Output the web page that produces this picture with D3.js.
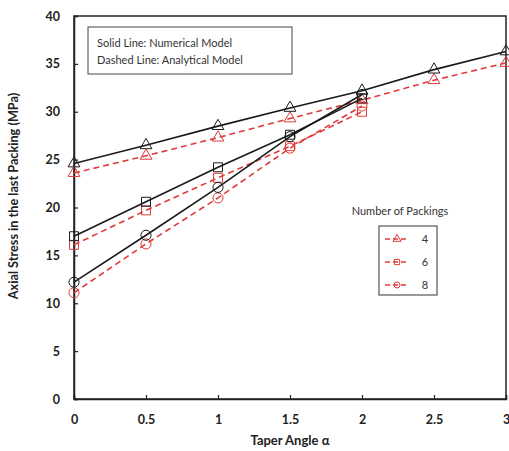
<!DOCTYPE html>
<html lang="en">
<head>
<meta charset="UTF-8">
<title>taper angle</title>
<style>
  body { margin: 0; background: #fff; }
  text { font-family: Lato, "Open Sans", sans-serif; }
  .tick text { font-size: 12.5px; font-weight: bold; fill: #222; }
  .num { fill: none; stroke: #1a1a1a; stroke-width: 1.6px; }
  .ana { fill: none; stroke: #e03a3a; stroke-width: 1.6px; stroke-dasharray: 6,4; }
</style>
</head>
<body>
<div id="chart"></div>
<script src="https://d3js.org/d3.v7.min.js"></script>
<script>
// taper angle on x
var angles = [0, 0.5, 1, 1.5, 2, 2.5, 3];
var packings = ["4", "6", "8"];

// numerical model (solid), analytical model (dashed)
var num4 = [24.6, 26.5, 28.5, 30.4, 32.2, 34.4, 36.3];
var ana4 = [23.6, 25.4, 27.3, 29.3, 31.2, 33.3, 35.1];
var num6 = [17.0, 20.6, 24.2, 27.6, 31.4];
var ana6 = [16.1, 19.7, 23.1, 26.4, 30.0];
var num8 = [12.2, 17.1, 22.1, 27.4, 31.8];
var ana8 = [11.1, 16.2, 21.0, 26.2, 30.6];

var xTicks = [0, 0.5, 1, 1.5, 2, 2.5, 3];
var yTicks = [0, 5, 10, 15, 20, 25, 30, 35, 40];

var margin = {top: 16, right: 3, bottom: 52, left: 74};
var width = 509 - margin.left - margin.right;
var height = 451 - margin.top - margin.bottom;

var svg = d3.select("#chart").append("svg")
    .attr("width", 509).attr("height", 451)
    .append("g")
    .attr("transform", "translate(" + margin.left + "," + margin.top + ")");

var x = d3.scaleLinear().domain([0, 3]).range([0, width]);
var y = d3.scaleLinear().domain([0, 40]).range([height, 0]);

// frame
svg.append("rect").attr("width", width).attr("height", height)
    .attr("fill", "none").attr("stroke", "#222").attr("stroke-width", 1.5);

var xAxis = svg.append("g").attr("transform", "translate(0," + height + ")")
    .call(d3.axisBottom(x).tickValues(xTicks).tickSize(-4).tickPadding(16).tickFormat(d3.format("")));
var yAxis = svg.append("g")
    .call(d3.axisLeft(y).tickValues(yTicks).tickSize(-4).tickPadding(14));
[xAxis, yAxis].forEach(function (a) {
  a.select(".domain").attr("stroke", "#222").attr("stroke-width", 1.5);
  a.selectAll(".tick line").attr("stroke", "#222").attr("stroke-width", 1.2);
});

svg.append("text").attr("x", width / 2).attr("y", height + 46)
    .attr("text-anchor", "middle").attr("font-size", 13).attr("font-weight", "bold")
    .attr("fill", "#222").text("Taper Angle α");
svg.append("text").attr("transform", "translate(-56,180) rotate(-90)")
    .attr("text-anchor", "middle").attr("font-size", 12.7).attr("font-weight", "bold")
    .attr("fill", "#222").text("Axial Stress in the last Packing (MPa)");

var series = [
  {num: num4, ana: ana4, sym: d3.symbolTriangle},
  {num: num6, ana: ana6, sym: d3.symbolSquare},
  {num: num8, ana: ana8, sym: d3.symbolCircle}
];

var line = d3.line().x(function (d) { return x(d[0]); }).y(function (d) { return y(d[1]); });

function pairs(vals) {
  return vals.map(function (v, i) { return [angles[i], v]; });
}

series.forEach(function (s) {
  [["ana", "#e03a3a"], ["num", "#1a1a1a"]].forEach(function (k) {
    var pts = pairs(s[k[0]]);
    svg.append("path").attr("class", k[0]).attr("d", line(pts));
    svg.selectAll(null).data(pts).enter().append("path")
        .attr("d", d3.symbol().type(s.sym).size(s.sym === d3.symbolTriangle ? 60 : 80))
        .attr("transform", function (d) { return "translate(" + x(d[0]) + "," + y(d[1]) + ")"; })
        .attr("fill", "none").attr("stroke", k[1]).attr("stroke-width", 1);
  });
});

// text legend top left
var lg = svg.append("g").attr("transform", "translate(14,11)");
lg.append("rect").attr("width", 204).attr("height", 47)
    .attr("fill", "#fff").attr("stroke", "#444").attr("stroke-width", 1);
lg.append("text").attr("x", 9).attr("y", 20).attr("font-size", 11).attr("fill", "#333")
    .text("Solid Line: Numerical Model");
lg.append("text").attr("x", 9).attr("y", 37).attr("font-size", 11).attr("fill", "#333")
    .text("Dashed Line: Analytical Model");

// packing legend
svg.append("text").attr("x", 326).attr("y", 199).attr("text-anchor", "middle")
    .attr("font-size", 11).attr("fill", "#333").text("Number of Packings");
var pl = svg.append("g").attr("transform", "translate(305,210)");
pl.append("rect").attr("width", 58).attr("height", 69)
    .attr("fill", "#fff").attr("stroke", "#555").attr("stroke-width", 1.2);
packings.forEach(function (p, i) {
  var ry = 13 + i * 23;
  pl.append("line").attr("x1", 6).attr("x2", 30).attr("y1", ry).attr("y2", ry)
      .attr("stroke", "#e03a3a").attr("stroke-width", 1.5).attr("stroke-dasharray", "5,3");
  pl.append("path").attr("d", d3.symbol().type(series[i].sym).size(28))
      .attr("transform", "translate(18," + ry + ")")
      .attr("fill", "none").attr("stroke", "#e03a3a").attr("stroke-width", 1);
  pl.append("text").attr("x", 46).attr("y", ry + 4).attr("text-anchor", "middle")
      .attr("font-size", 11).attr("fill", "#333").text(p);
});
</script>
</body>
</html>
